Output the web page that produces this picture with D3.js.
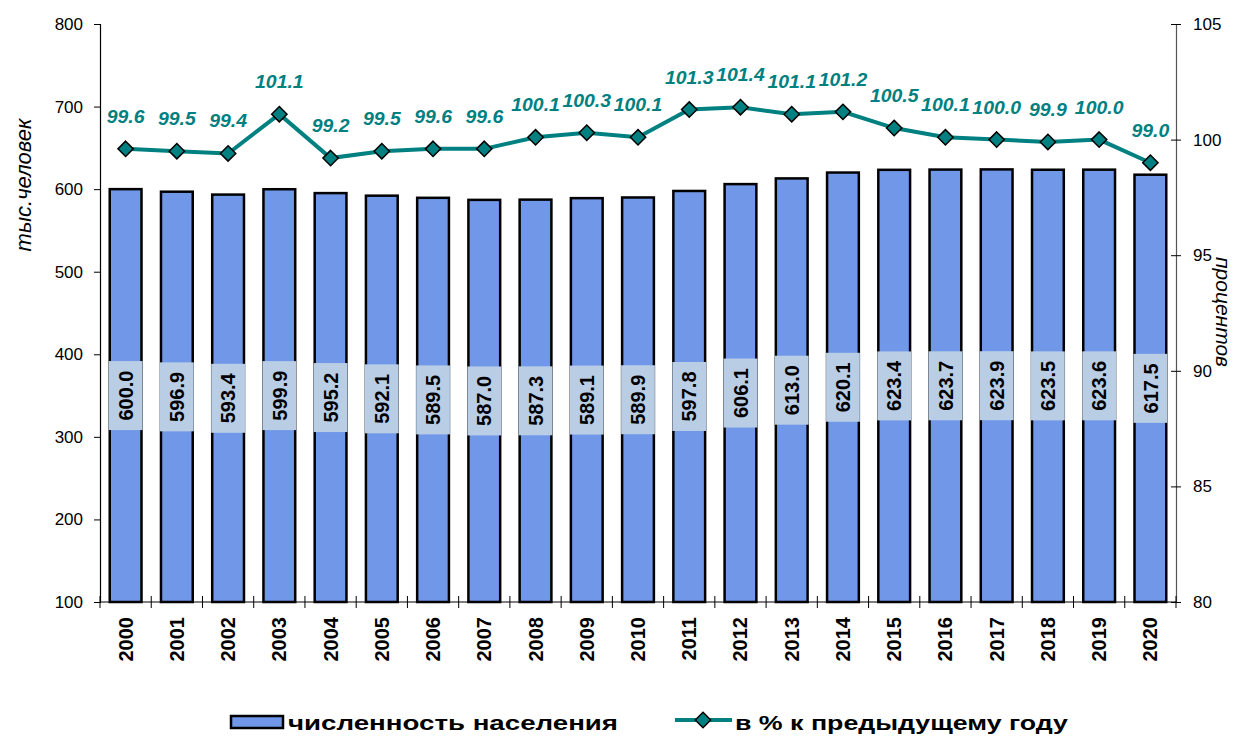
<!DOCTYPE html>
<html>
<head>
<meta charset="utf-8">
<script src="https://cdn.jsdelivr.net/npm/d3@7"></script>
<style>
  body { margin: 0; background: #fff; }
  text { font-family: "Liberation Sans", Arial, sans-serif; }
</style>
</head>
<body>
<svg id="chart" width="1237" height="738"></svg>
<script>
const years = ['2000', '2001', '2002', '2003', '2004', '2005', '2006', '2007', '2008', '2009', '2010',
  '2011', '2012', '2013', '2014', '2015', '2016', '2017', '2018', '2019', '2020'];
const population = [600.0, 596.9, 593.4, 599.9, 595.2, 592.1, 589.5, 587.0, 587.3, 589.1, 589.9,
  597.8, 606.1, 613.0, 620.1, 623.4, 623.7, 623.9, 623.5, 623.6, 617.5];
const percent = [99.6, 99.5, 99.4, 101.1, 99.2, 99.5, 99.6, 99.6, 100.1, 100.3, 100.1,
  101.3, 101.4, 101.1, 101.2, 100.5, 100.1, 100.0, 99.9, 100.0, 99.0];
const leftTicks = [100, 200, 300, 400, 500, 600, 700, 800];
const rightTicks = [80, 85, 90, 95, 100, 105];

const barColor = '#7097e8';
const lineColor = '#008080';
const labelBox = '#b9cde5';
const font = '"Liberation Sans", Arial, sans-serif';

const svg = d3.select('#chart');
const plotLeft = 100;
const plotRight = 1176;
const plotTop = 24;
const plotBottom = 602;

const x = d3.scaleBand().domain(years).range([plotLeft, plotRight]).paddingInner(0.38).paddingOuter(0.19);
const yLeft = d3.scaleLinear().domain([100, 800]).range([plotBottom, plotTop]);
const yRight = d3.scaleLinear().domain([80, 105]).range([plotBottom, plotTop]);

// left axis
const gl = svg.append('g')
  .attr('transform', `translate(${plotLeft},0)`)
  .call(d3.axisLeft(yLeft).tickValues(leftTicks).tickSize(6).tickPadding(11));
gl.select('.domain').attr('stroke', '#000').attr('stroke-width', 1.2);
gl.selectAll('.tick line').attr('stroke', '#000');
gl.selectAll('.tick text').attr('font-size', 17).attr('fill', '#000').style('font-family', font);

// right axis
const gr = svg.append('g')
  .attr('transform', `translate(${plotRight},0)`)
  .call(d3.axisRight(yRight).tickValues(rightTicks).tickSize(5).tickPadding(12));
gr.select('.domain').attr('stroke', '#555').attr('stroke-width', 1.2);
gr.selectAll('.tick line').attr('stroke', '#000').attr('x1', -5);
gr.selectAll('.tick text').attr('font-size', 17).attr('fill', '#000').style('font-family', font);

// bottom axis with band boundary ticks
svg.append('line')
  .attr('x1', plotLeft).attr('x2', plotRight)
  .attr('y1', plotBottom).attr('y2', plotBottom)
  .attr('stroke', '#000').attr('stroke-width', 1.2);
const step = x.step();
svg.append('g').selectAll('line')
  .data(d3.range(years.length + 1))
  .join('line')
  .attr('x1', (i) => plotLeft + i * step)
  .attr('x2', (i) => plotLeft + i * step)
  .attr('y1', plotBottom - 6)
  .attr('y2', plotBottom + 6)
  .attr('stroke', '#000');

svg.append('g').selectAll('text')
  .data(years)
  .join('text')
  .attr('transform', (d) => `translate(${x(d) + x.bandwidth() / 2 + 7},${plotBottom + 15}) rotate(-90)`)
  .attr('text-anchor', 'end')
  .attr('font-size', 20)
  .attr('font-weight', 'bold')
  .text((d) => d);

// bars
svg.append('g').selectAll('rect')
  .data(population)
  .join('rect')
  .attr('x', (d, i) => x(years[i]))
  .attr('width', x.bandwidth())
  .attr('y', (d) => yLeft(d))
  .attr('height', (d) => plotBottom - yLeft(d))
  .attr('fill', barColor)
  .attr('stroke', '#000')
  .attr('stroke-width', 2.5);

// bar value labels
const boxH = 69;
const bl = svg.append('g').selectAll('g')
  .data(population)
  .join('g')
  .attr('transform', (d, i) => `translate(${x(years[i]) + x.bandwidth() / 2},${(yLeft(d) + plotBottom) / 2})`);
bl.append('rect')
  .attr('x', -x.bandwidth() / 2 - 1)
  .attr('y', -boxH / 2)
  .attr('width', x.bandwidth() + 2)
  .attr('height', boxH)
  .attr('fill', labelBox);
bl.append('text')
  .attr('transform', 'rotate(-90)')
  .attr('text-anchor', 'middle')
  .attr('dy', '0.36em')
  .attr('font-size', 20)
  .attr('font-weight', 'bold')
  .text((d) => d.toFixed(1));

// line
const cx = (i) => x(years[i]) + x.bandwidth() / 2;
svg.append('path')
  .datum(percent)
  .attr('fill', 'none')
  .attr('stroke', lineColor)
  .attr('stroke-width', 4)
  .attr('d', d3.line().x((d, i) => cx(i)).y((d) => yRight(d)));

const diamond = d3.symbol().type(d3.symbolDiamond2).size(150);
svg.append('g').selectAll('path')
  .data(percent)
  .join('path')
  .attr('transform', (d, i) => `translate(${cx(i)},${yRight(d)})`)
  .attr('d', diamond)
  .attr('fill', lineColor)
  .attr('stroke', '#000')
  .attr('stroke-width', 1.5);

svg.append('g').selectAll('text')
  .data(percent)
  .join('text')
  .attr('transform', (d, i) => `translate(${cx(i)},${yRight(d) - 26}) scale(1.08,1)`)
  .attr('text-anchor', 'middle')
  .attr('font-size', 18)
  .attr('font-weight', 'bold')
  .attr('font-style', 'italic')
  .attr('fill', lineColor)
  .text((d) => d.toFixed(1));

// axis titles
svg.append('text')
  .attr('transform', 'translate(31,185) rotate(-90)')
  .attr('text-anchor', 'middle')
  .attr('font-size', 22)
  .attr('font-style', 'italic')
  .text('тыс.человек');
svg.append('text')
  .attr('transform', 'translate(1216,312) rotate(90)')
  .attr('text-anchor', 'middle')
  .attr('font-size', 21)
  .attr('font-style', 'italic')
  .text('процентов');

// legend
const lg = svg.append('g');
lg.append('rect')
  .attr('x', 231).attr('y', 716).attr('width', 52).attr('height', 12)
  .attr('fill', barColor).attr('stroke', '#000').attr('stroke-width', 2.5);
lg.append('text')
  .attr('x', 288).attr('y', 730)
  .attr('font-size', 21).attr('font-weight', 'bold')
  .attr('textLength', 330).attr('lengthAdjust', 'spacingAndGlyphs')
  .text('численность населения');
lg.append('line')
  .attr('x1', 675).attr('x2', 732).attr('y1', 720).attr('y2', 720)
  .attr('stroke', lineColor).attr('stroke-width', 4);
lg.append('path')
  .attr('transform', 'translate(703,720)')
  .attr('d', diamond)
  .attr('fill', lineColor).attr('stroke', '#000').attr('stroke-width', 1.5);
lg.append('text')
  .attr('x', 735).attr('y', 730)
  .attr('font-size', 21).attr('font-weight', 'bold')
  .attr('textLength', 333).attr('lengthAdjust', 'spacingAndGlyphs')
  .text('в % к предыдущему году');
</script>
</body>
</html>
